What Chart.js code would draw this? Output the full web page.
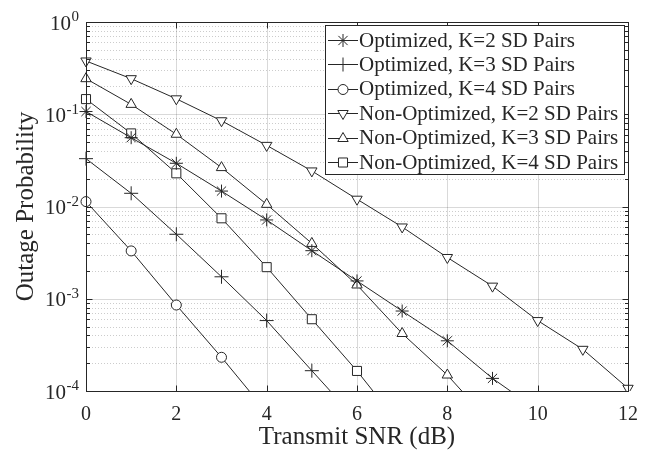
<!DOCTYPE html>
<html>
<head>
<meta charset="utf-8">
<script src="https://cdn.jsdelivr.net/npm/chart.js@4.4.0/dist/chart.umd.min.js"></script>
<style>
    html, body { margin: 0; padding: 0; background: #fff; }
</style>
</head>
<body>
<canvas id="result" width="652" height="455"></canvas>
<script>
// SNR points (dB)
const snr = [0, 1, 2, 3, 4, 5, 6, 7, 8, 9, 10, 11, 12];

// outage probability (last value of each falls below the axis and is clipped)
const optK2 = [0.107, 0.0557, 0.0294, 0.0147, 0.00715, 0.00332, 0.00156, 0.000736, 0.00035, 0.000137, 0.000062];
const optK3 = [0.033, 0.0139, 0.005, 0.00173, 0.00058, 0.000166, 0.000048];
const optK4 = [0.0113, 0.0033, 0.000855, 0.000232, 0.000059];
const nonK2 = [0.378, 0.243, 0.147, 0.085, 0.046, 0.0243, 0.0120, 0.0060, 0.0028, 0.00137, 0.00058, 0.000283, 0.000107];
const nonK3 = [0.243, 0.128, 0.0607, 0.0264, 0.01055, 0.00398, 0.00141, 0.00042, 0.000149, 0.000043];
const nonK4 = [0.146, 0.062, 0.0229, 0.00745, 0.0022, 0.0006, 0.000165, 0.00004];

const xTicks = [0, 2, 4, 6, 8, 10, 12];
const yExponents = [-4, -3, -2, -1, 0];

const ink = '#262626';
const serif = '"Liberation Serif", "Times New Roman", serif';

function pairs (values) {
    return values.map((v, i) => ({x: snr[i], y: v}));
}

function series (label, values, style, radius, rotation) {
    return {
        label,
        data: pairs(values),
        borderColor: ink,
        backgroundColor: '#fff',
        borderWidth: 1,
        tension: 0,
        clip: {left: 8, right: 8, top: 8, bottom: 0},
        pointStyle: style,
        pointRadius: radius,
        pointHoverRadius: radius,
        pointRotation: rotation || 0,
        pointBorderColor: ink,
        pointBackgroundColor: '#fff',
        pointBorderWidth: 1
    };
}

const data = {
    datasets: [
        series('Optimized, K=2 SD Pairs', optK2, 'star', 6.5),
        series('Optimized, K=3 SD Pairs', optK3, 'cross', 7),
        series('Optimized, K=4 SD Pairs', optK4, 'circle', 5),
        series('Non-Optimized, K=2 SD Pairs', nonK2, 'triangle', 6, 180),
        series('Non-Optimized, K=3 SD Pairs', nonK3, 'triangle', 6),
        series('Non-Optimized, K=4 SD Pairs', nonK4, 'rect', 6.4)
    ]
};

function hline (ctx, x1, x2, y) {
    ctx.beginPath(); ctx.moveTo(x1, y); ctx.lineTo(x2, y); ctx.stroke();
}
function vline (ctx, x, y1, y2) {
    ctx.beginPath(); ctx.moveTo(x, y1); ctx.lineTo(x, y2); ctx.stroke();
}

function minorValues () {
    let out = [];
    yExponents.slice(0, -1).forEach(e => {
        for (let m = 2; m <= 9; m++) out.push(m * Math.pow(10, e));
    });
    return out;
}

// matlab style box, grid, inward ticks, superscript labels and the legend
const matlabAxes = {
    id: 'matlabAxes',
    beforeDatasetsDraw (chart) {
        const {ctx, chartArea: a, scales: {x, y}} = chart;
        ctx.save();
        ctx.lineWidth = 1;
        ctx.strokeStyle = 'rgba(0,0,0,0.2)';
        ctx.setLineDash([1, 2]);
        minorValues().forEach(v => hline(ctx, a.left, a.right, Math.round(y.getPixelForValue(v)) + 0.5));
        ctx.setLineDash([]);
        ctx.strokeStyle = 'rgba(0,0,0,0.15)';
        yExponents.forEach(e => hline(ctx, a.left, a.right, Math.round(y.getPixelForValue(Math.pow(10, e))) + 0.5));
        xTicks.forEach(t => vline(ctx, Math.round(x.getPixelForValue(t)) + 0.5, a.top, a.bottom));
        ctx.restore();
    },
    afterDatasetsDraw (chart) {
        const {ctx, chartArea: a, scales: {x, y}} = chart;
        const L = Math.round(a.left) + 0.5, R = Math.round(a.right) + 0.5;
        const T = Math.round(a.top) + 0.5, B = Math.round(a.bottom) + 0.5;
        ctx.save();
        ctx.strokeStyle = ink;
        ctx.lineWidth = 1;
        ctx.strokeRect(L, T, R - L, B - T);

        xTicks.forEach(t => {
            let px = Math.round(x.getPixelForValue(t)) + 0.5;
            vline(ctx, px, B, B - 6);
            vline(ctx, px, T, T + 6);
        });
        yExponents.forEach(e => {
            let py = Math.round(y.getPixelForValue(Math.pow(10, e))) + 0.5;
            hline(ctx, L, L + 6, py);
            hline(ctx, R, R - 6, py);
        });
        minorValues().forEach(v => {
            let py = Math.round(y.getPixelForValue(v)) + 0.5;
            hline(ctx, L, L + 3.5, py);
            hline(ctx, R, R - 3.5, py);
        });

        // y tick labels 10^e
        ctx.fillStyle = ink;
        ctx.textAlign = 'right';
        ctx.textBaseline = 'middle';
        yExponents.forEach(e => {
            let py = y.getPixelForValue(Math.pow(10, e));
            let exp = String(e);
            ctx.font = '15px ' + serif;
            let ew = ctx.measureText(exp).width;
            ctx.fillText(exp, 79, py - 4.5);
            ctx.font = '21px ' + serif;
            ctx.fillText('10', 79 - ew - 0.5, py + 2);
        });

        // legend
        const lx = 325.5, ly = 25.5, lw = 299, lh = 149;
        ctx.fillStyle = '#fff';
        ctx.fillRect(lx, ly, lw, lh);
        ctx.strokeStyle = ink;
        ctx.strokeRect(lx, ly, lw, lh);
        ctx.font = '21px ' + serif;
        ctx.textAlign = 'left';
        chart.data.datasets.forEach((ds, i) => {
            let ry = 40 + i * 24.4;
            ctx.strokeStyle = ink;
            ctx.lineWidth = 1;
            hline(ctx, 328, 358, Math.round(ry) + 0.5);
            ctx.fillStyle = '#fff';
            Chart.helpers.drawPoint(ctx, {
                pointStyle: ds.pointStyle,
                radius: ds.pointRadius,
                rotation: ds.pointRotation,
                borderWidth: 1
            }, 343, Math.round(ry) + 0.5);
            ctx.fillStyle = ink;
            ctx.fillText(ds.label, 359, ry + 1);
        });
        ctx.restore();
    }
};

var options = {
    responsive: false,
    animation: false,
    events: [],
    layout: { padding: { left: 0, top: 22, right: 24, bottom: 0 } },
    plugins: { legend: { display: false }, tooltip: { enabled: false } },
    scales: {
        x: {
            type: 'linear',
            min: 0,
            max: 12,
            afterBuildTicks: scale => { scale.ticks = xTicks.map(v => ({value: v})); },
            afterFit: scale => { scale.height = 64; },
            grid: { display: false, drawTicks: false },
            border: { display: false },
            ticks: { color: ink, padding: 12, font: { family: serif, size: 20 } },
            title: { display: true, text: 'Transmit SNR (dB)', color: ink, padding: { top: 0, bottom: 3 }, font: { family: serif, size: 25 } }
        },
        y: {
            type: 'logarithmic',
            min: 1e-4,
            max: 1,
            afterFit: scale => { scale.width = 86; },
            grid: { display: false, drawTicks: false },
            border: { display: false },
            ticks: { display: false },
            title: { display: true, text: 'Outage Probability', color: ink, padding: { top: 11, bottom: 0 }, font: { family: serif, size: 25 } }
        }
    }
};

function mountChart (data) {
    let ctx = document.getElementById('result').getContext('2d');
    let myChart = new Chart(ctx, {
        type: 'line',
        data,
        options,
        plugins: [matlabAxes]
    });
}

mountChart(data);
</script>
</body>
</html>
